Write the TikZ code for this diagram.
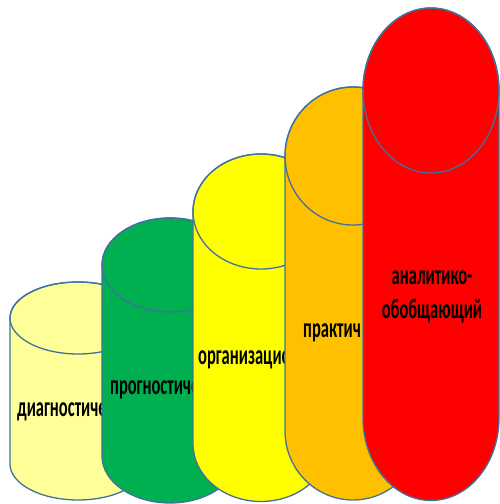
\documentclass[tikz,border=0pt]{standalone}
\usepackage{graphicx}
\usepackage{fontspec}
\setmainfont{Carlito}
\definecolor{outl}{HTML}{41719C}
\definecolor{paleyellow}{HTML}{FFFF99}
\definecolor{stepgreen}{HTML}{00B050}
\definecolor{stepyellow}{HTML}{FFFF00}
\definecolor{steporange}{HTML}{FFC000}
\definecolor{stepred}{HTML}{FF0000}
\begin{document}
\begin{tikzpicture}[x=1pt,y=1pt,
    cyl/.style={draw=outl, line width=1.3pt},
    label/.style={inner sep=0pt, font=\fontsize{16.5}{20}\bfseries}]
  \useasboundingbox (0,0) rectangle (499,504);
  % diagnostic
  \draw[cyl, fill=paleyellow] (10,186) -- (10,40)
    arc[start angle=180, end angle=360, x radius=68, y radius=36]
    -- (146,186) arc[start angle=0, end angle=180, x radius=68, y radius=36] -- cycle;
  \draw[cyl] (78,186) ellipse [x radius=68, y radius=36];
  \node[label, anchor=base west] (diag) at (17,87) {\scalebox{1}[1.7]{диагностиче}};
  % prognostic
  \draw[cyl, fill=stepgreen] (102,239) -- (102,48)
    arc[start angle=180, end angle=360, x radius=68, y radius=47]
    -- (238,239) arc[start angle=0, end angle=180, x radius=68, y radius=47] -- cycle;
  \draw[cyl] (170,239) ellipse [x radius=68, y radius=47];
  \node[label, anchor=base west] (progn) at (110,109) {\scalebox{1}[1.7]{прогностиче}};
  % organisational
  \draw[cyl, fill=stepyellow] (193,292.5) -- (193,60)
    arc[start angle=180, end angle=360, x radius=68, y radius=57.5]
    -- (329,292.5) arc[start angle=0, end angle=180, x radius=68, y radius=57.5] -- cycle;
  \draw[cyl] (261,292.5) ellipse [x radius=68, y radius=57.5];
  \node[label, anchor=base west] (org) at (198,139) {\scalebox{1}[1.7]{организацио}};
  % practical
  \draw[cyl, fill=steporange] (285,348) -- (285,73)
    arc[start angle=180, end angle=360, x radius=68, y radius=69]
    -- (421,348) arc[start angle=0, end angle=180, x radius=68, y radius=69] -- cycle;
  \draw[cyl] (353,348) ellipse [x radius=68, y radius=69];
  \node[label, anchor=base west] (pract) at (303,166) {\scalebox{1}[1.7]{практич}};
  % analytic
  \draw[cyl, fill=stepred] (363,413.5) -- (363,86)
    arc[start angle=180, end angle=360, x radius=68, y radius=82.5]
    -- (499,413.5) arc[start angle=0, end angle=180, x radius=68, y radius=82.5] -- cycle;
  \draw[cyl] (431,413.5) ellipse [x radius=68, y radius=82.5];
  \node[label, anchor=base] (anal) at (432,202)
    {\scalebox{1}[1.7]{\begin{tabular}{@{}c@{}}аналитико-\\обобщающий\end{tabular}}};
\end{tikzpicture}
\end{document}
